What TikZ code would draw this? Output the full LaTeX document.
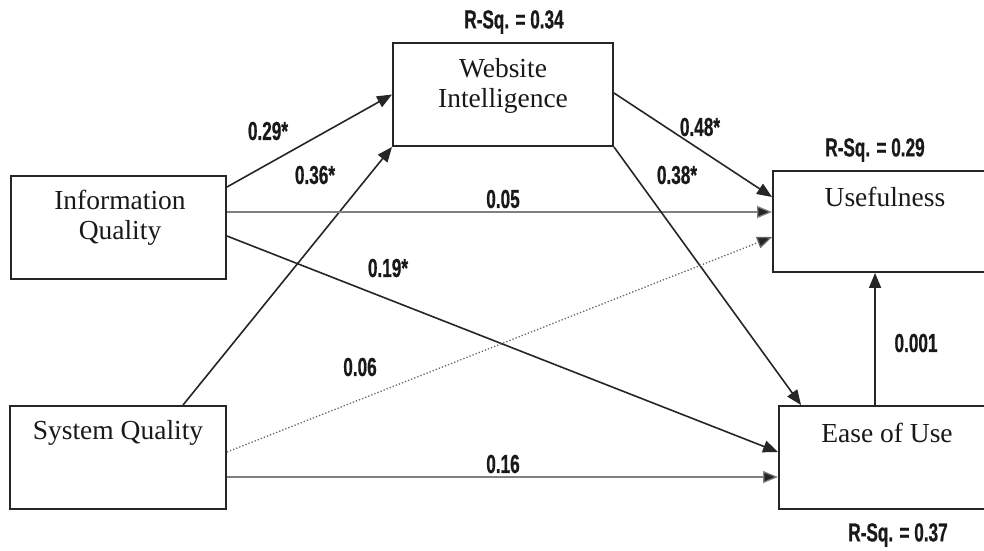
\documentclass[tikz,border=0pt]{standalone}
\usepackage{fontspec}
\setmainfont{Liberation Serif}
\newfontfamily\lblfont[FakeStretch=0.66,FakeBold=0.6]{Liberation Sans Bold}
\usetikzlibrary{arrows.meta}
\tikzset{
  x=1pt, y=-1pt,
  box/.style={draw=black!85, line width=1.9pt, rectangle, inner sep=0pt},
  boxtext/.style={align=center, font=\fontsize{27.5}{30}\selectfont, text=black!90},
  lbl/.style={font=\lblfont\fontsize{26}{28}\selectfont, inner sep=0pt, text=black!90},
  path/.style={draw=black!85, line width=1.6pt, -{Triangle[length=15pt,width=12pt]}},
  thinpath/.style={draw=black!50, line width=1.2pt, -{Triangle[length=15pt,width=12pt,fill=black!85]}},
  dotpath/.style={draw=black!60, line width=1.3pt, dotted, -{Triangle[length=15pt,width=12pt,fill=black!85]}},
}
\begin{document}
\begin{tikzpicture}
\useasboundingbox (0,0) rectangle (984,550);
\clip (0,0) rectangle (984,550);
\fill[white] (0,0) rectangle (984,550);

% boxes
\node[box, minimum width=215pt, minimum height=103pt] (iq) at (118.5,227.5) {};
\node[box, minimum width=216pt, minimum height=103pt] (sq) at (118,457.5) {};
\node[box, minimum width=220pt, minimum height=103pt] (wi) at (503,94.5) {};
\node[box, minimum width=230pt, minimum height=101pt] (use) at (888,221.5) {};
\node[box, minimum width=230pt, minimum height=103pt] (eou) at (894,457.5) {};

% box texts
\node[boxtext] (iqt) at (120,218) {Information\\Quality};
\node[boxtext] (wit) at (503,86) {Website\\Intelligence};
\node[boxtext] (uset) at (885,197) {Usefulness};
\node[boxtext] (sqt) at (118,433) {System Quality};
\node[boxtext] (eout) at (887,433) {Ease of Use};

% connectors
\draw[path] ([yshift=40.5pt]iq.east) -- (wi.west);
\draw[path] ([xshift=65pt]sq.north) -- (wi.south west);
\draw[thinpath] ([yshift=15.5pt]iq.east) -- ([yshift=9.5pt]use.west);
\draw[path] ([yshift=-8.5pt]iq.east) -- ([yshift=5.5pt]eou.west);
\draw[path] ([yshift=1.5pt]wi.east) -- ([yshift=24.5pt]use.west);
\draw[path] (wi.south east) -- ([xshift=23pt]eou.north west);
\draw[dotpath] ([yshift=5.5pt]sq.east) -- ([yshift=-15.5pt]use.west);
\draw[thinpath] ([yshift=-19.5pt]sq.east) -- ([yshift=-19.5pt]eou.west);
\coordinate (eoutop) at ([xshift=97pt]eou.north west);
\draw[path] (eoutop) -- (eoutop |- use.south);

% labels
\node[lbl] (r1) at (514,22) {R-Sq. = 0.34};
\node[lbl] (l29) at (268,131) {0.29*};
\node[lbl] (l36) at (315,175) {0.36*};
\node[lbl] (l05) at (503,199) {0.05};
\node[lbl] (l19) at (388,268) {0.19*};
\node[lbl] (l48) at (700,127) {0.48*};
\node[lbl] (l38) at (677,175) {0.38*};
\node[lbl] (r2) at (875,150) {R-Sq. = 0.29};
\node[lbl] (l06) at (360,367) {0.06};
\node[lbl] (l16) at (503,464) {0.16};
\node[lbl] (l001) at (916,343) {0.001};
\node[lbl] (r3) at (898,535) {R-Sq. = 0.37};
\end{tikzpicture}
\end{document}
